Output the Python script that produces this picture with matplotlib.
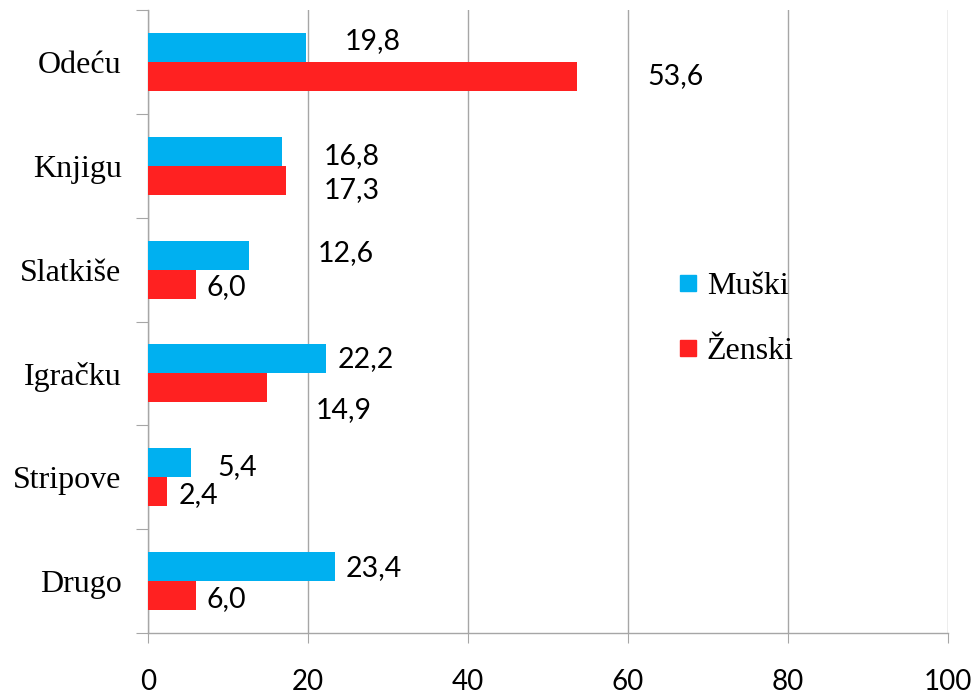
import matplotlib
matplotlib.use("Agg")
import matplotlib.pyplot as plt
from matplotlib.lines import Line2D
import numpy as np

categories = ["Odeću", "Knjigu", "Slatkiše", "Igračku", "Stripove", "Drugo"]
muski = [19.8, 16.8, 12.6, 22.2, 5.4, 23.4]
zenski = [53.6, 17.3, 6.0, 14.9, 2.4, 6.0]
x_ticks = [0, 20, 40, 60, 80, 100]

# hand-placed label offsets (pixels) as in the original
muski_off = [(38, 6), (41, -5), (69, 2), (12, 0), (26, -4), (10, -2)]
zenski_off = [(71, 0), (37, -10), (11, -3), (49, -22), (11, -3), (11, -3)]

blue = "#00B0F0"
red = "#FF2121"
grid_c = "#A6A6A6"
num_font = "Lato"
cat_font = "Liberation Serif"

fig = plt.figure(figsize=(9.77, 6.98), dpi=100)
ax = fig.add_axes([148 / 977, 65 / 698, 800 / 977, 623 / 698])

y = np.arange(len(categories))
h = 0.28
ax.barh(y - h / 2, muski, height=h, color=blue, zorder=3)
ax.barh(y + h / 2, zenski, height=h, color=red, zorder=3)

for i in range(len(categories)):
    ax.annotate(f"{muski[i]:.1f}".replace(".", ","), xy=(muski[i], y[i] - h / 2),
                xytext=muski_off[i], textcoords="offset pixels",
                ha="left", va="center", fontsize=20.5, family=num_font)
    ax.annotate(f"{zenski[i]:.1f}".replace(".", ","), xy=(zenski[i], y[i] + h / 2),
                xytext=zenski_off[i], textcoords="offset pixels",
                ha="left", va="center", fontsize=20.5, family=num_font)

ax.set_xlim(0, 100)
ax.set_ylim(len(categories) - 0.5, -0.5)
ax.set_xticks(x_ticks)
ax.set_xticklabels([str(t) for t in x_ticks], fontsize=20, family=num_font)
ax.tick_params(axis="x", length=7, color=grid_c, pad=19)

ax.set_yticks(np.arange(-0.5, len(categories), 1.0))
ax.set_yticklabels([])
ax.tick_params(axis="y", which="major", length=9, color=grid_c)
ax.set_yticks(y, minor=True)
ax.set_yticklabels(categories, minor=True, fontsize=23, family=cat_font)
ax.tick_params(axis="y", which="minor", length=0, pad=19)

ax.grid(axis="x", color=grid_c, linewidth=1, zorder=0)
for s in ["top", "right"]:
    ax.spines[s].set_visible(False)
for s in ["left", "bottom"]:
    ax.spines[s].set_color(grid_c)
    ax.spines[s].set_linewidth(1)

handles = [Line2D([], [], marker="s", linestyle="none", color=blue, markersize=11),
           Line2D([], [], marker="s", linestyle="none", color=red, markersize=11)]
ax.legend(handles, ["Muški", "Ženski"], loc="center left",
          bbox_to_anchor=(651 / 977, 1 - 319 / 698), bbox_transform=fig.transFigure,
          frameon=False, prop={"family": cat_font, "size": 23},
          handlelength=0.5, handletextpad=0.35, labelspacing=1.12)

fig.savefig("out.png", dpi=100)
